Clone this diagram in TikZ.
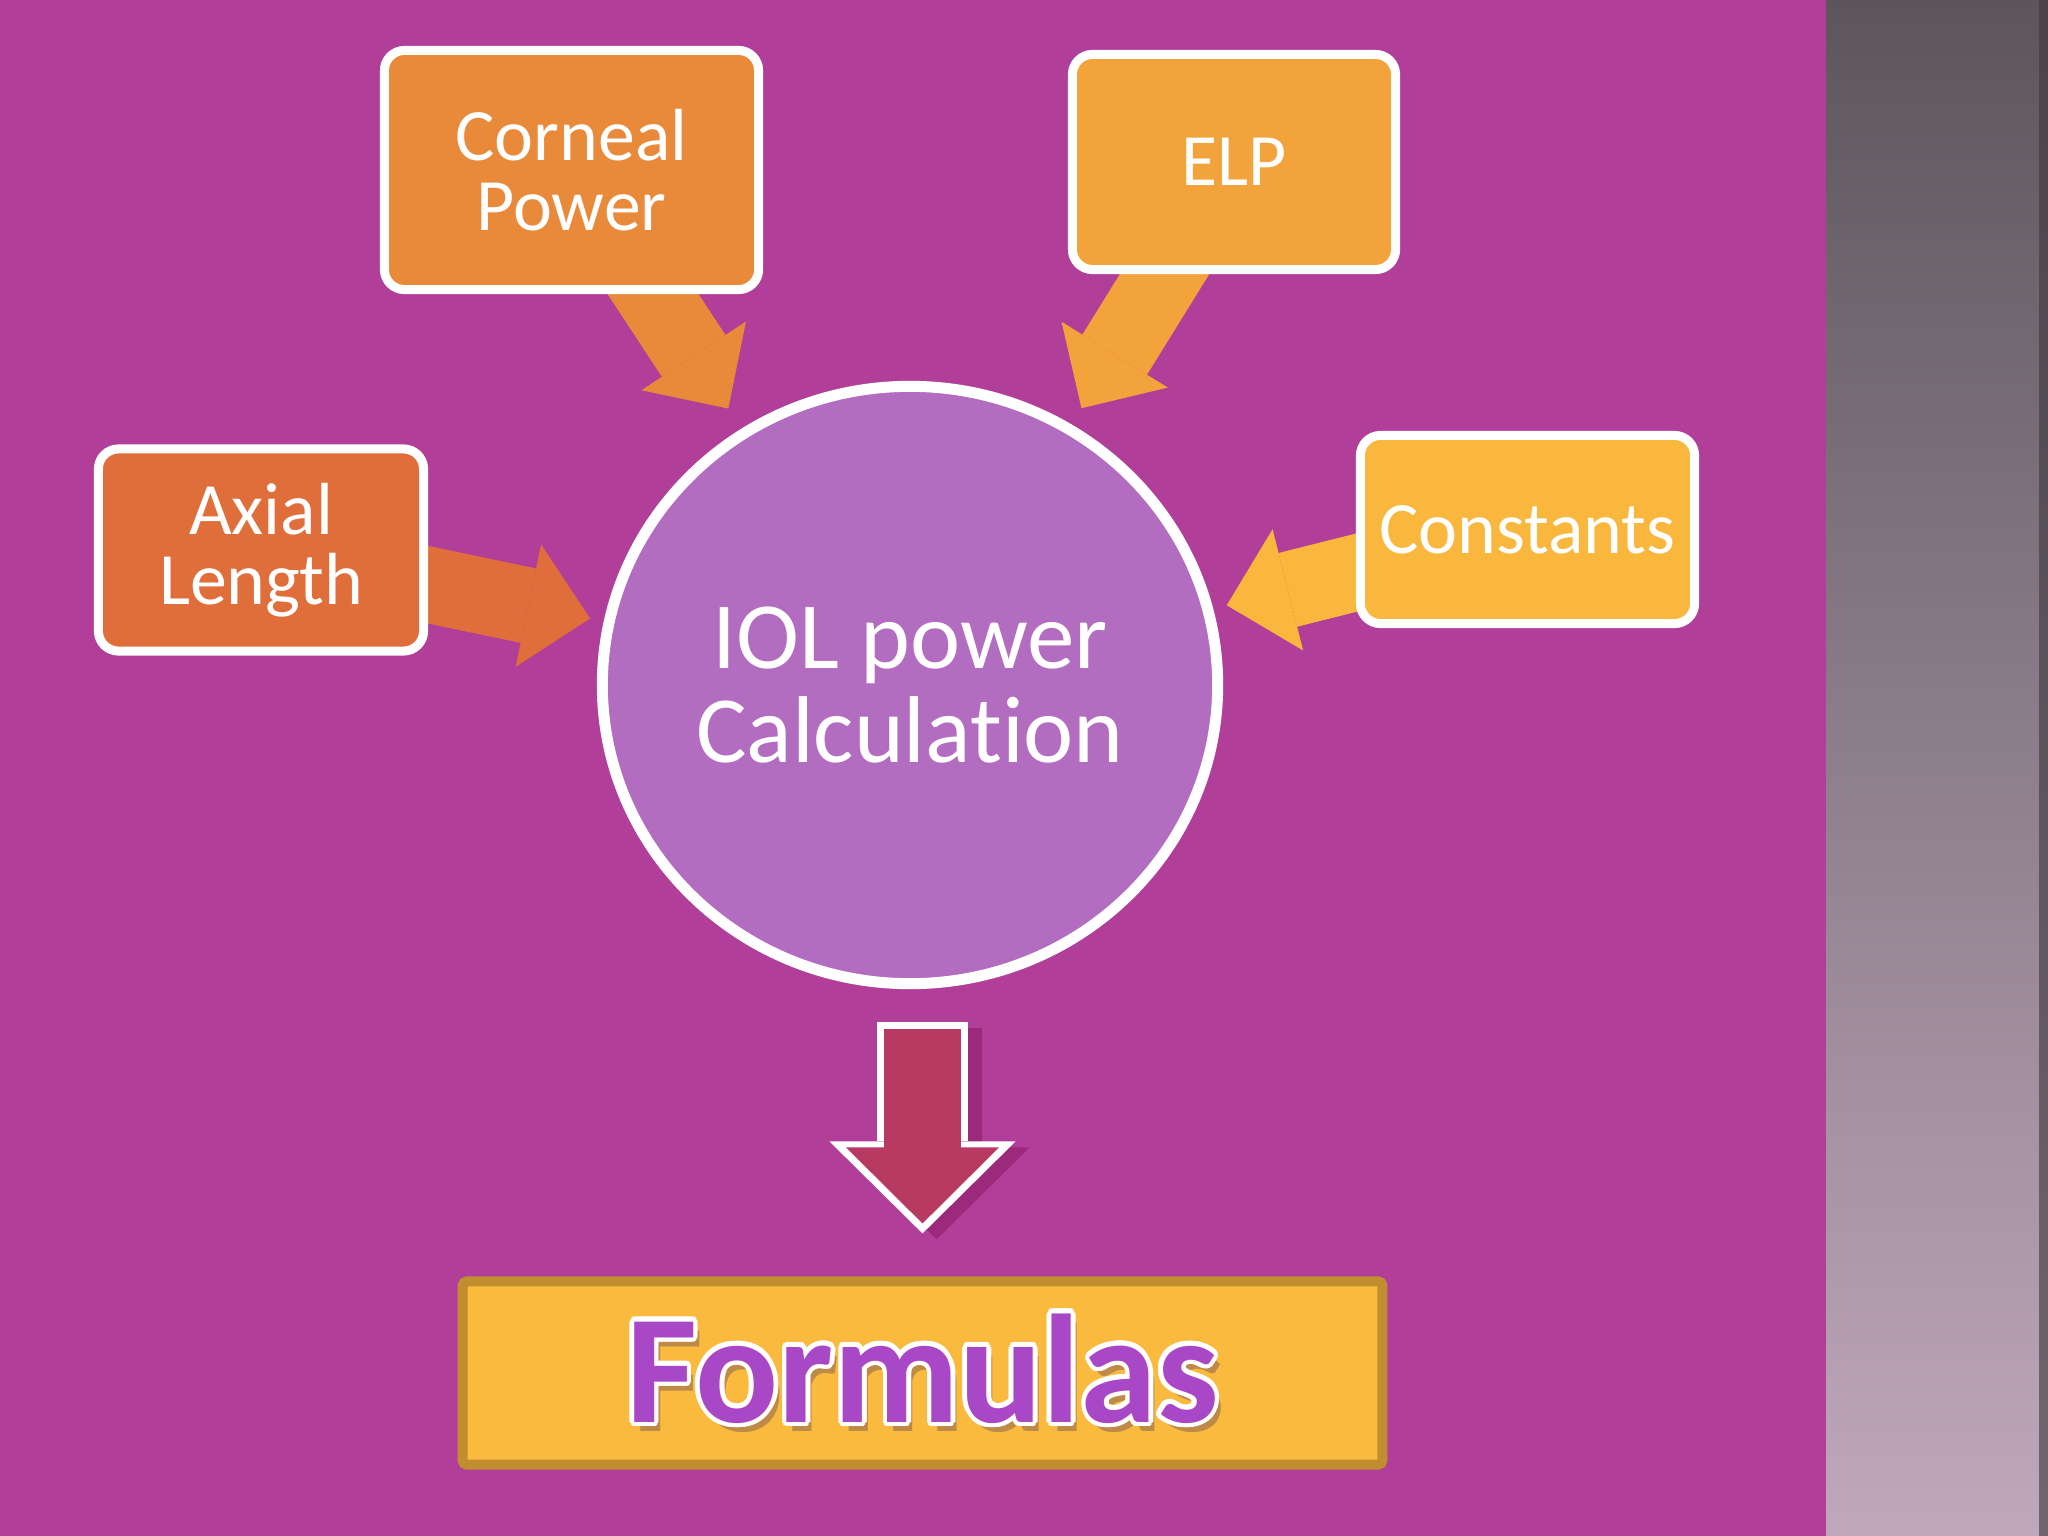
\documentclass[tikz,border=0pt]{standalone}
\usepackage{fontspec}
\setmainfont{Carlito}[Ligatures=NoCommon]
\usepackage[copies]{contour}
\contourlength{1.3pt}
\usetikzlibrary{arrows.meta,positioning,shapes.geometric,calc}
\definecolor{slideBg}{RGB}{177,62,152}
\definecolor{panelTop}{RGB}{92,86,92}
\definecolor{panelMid}{RGB}{140,124,138}
\definecolor{panelBottom}{RGB}{192,168,188}
\definecolor{panelEdge}{RGB}{62,56,62}
\definecolor{axialOrange}{RGB}{224,110,58}
\definecolor{cornealOrange}{RGB}{233,138,59}
\definecolor{elpOrange}{RGB}{243,163,60}
\definecolor{constYellow}{RGB}{249,183,62}
\definecolor{iolViolet}{RGB}{178,108,192}
\definecolor{downRed}{RGB}{184,58,98}
\definecolor{downShadow}{RGB}{150,38,118}
\definecolor{formGold}{RGB}{250,186,62}
\definecolor{formEdge}{RGB}{192,142,46}
\definecolor{formPurple}{RGB}{168,72,198}
\definecolor{formShadow}{RGB}{190,138,72}
\pgfdeclarelayer{slide}
\pgfdeclarelayer{links}
\pgfsetlayers{slide,links,main}

\begin{document}
\begin{tikzpicture}[
  x=0.01cm, y=-0.01cm,
  inbox/.style={
    draw=white,
    line width=0.09cm,
    rounded corners=0.2cm,
    align=center,
    text=white,
    font=\fontsize{21}{20}\selectfont
  },
  feed/.style={line width=0.76cm,-{Triangle[width=1.25cm,length=0.63cm,line width=0pt]}},
  downout/.style={white,line width=0.91cm,-{Triangle[width=1.86cm,length=0.92cm,line width=0pt]}},
  downin/.style={downRed,line width=0.77cm,-{Triangle[width=1.53cm,length=0.76cm,line width=0pt]}},
  downshade/.style={downShadow,opacity=0.8,line width=0.91cm,-{Triangle[width=1.86cm,length=0.92cm,line width=0pt]}}
]
  \useasboundingbox (0,0) rectangle (2048,1536);
  \begin{pgfonlayer}{slide}
    \fill[slideBg] (0,0) rectangle (2048,1536);
    % side panel
    \shade[top color=panelTop,middle color=panelMid,bottom color=panelBottom] (1826,0) rectangle (2048,1536);
    \fill[panelEdge,opacity=0.6] (2039,0) rectangle (2048,1536);
  \end{pgfonlayer}

  \node[inbox,fill=cornealOrange,minimum width=3.74cm,minimum height=2.39cm] (corneal) at (571.5,170) {Corneal\\Power};
  \node[inbox,fill=elpOrange,minimum width=3.23cm,minimum height=2.15cm] (elp) at (1234,162) {ELP};
  \node[inbox,fill=axialOrange,minimum width=3.25cm,minimum height=2.02cm] (axial) at (261,550) {Axial\\Length};
  \node[inbox,fill=constYellow,minimum width=3.34cm,minimum height=1.88cm] (constants) at (1527.5,529.5) {Constants};
  \node[ellipse,draw=white,line width=0.11cm,fill=iolViolet,inner sep=0pt,minimum width=6.15cm,minimum height=5.97cm,
    align=center,text=white,font=\fontsize{27}{26.5}\selectfont] (iol) at (910,685) {IOL power\\Calculation};
  \node[draw=formEdge,line width=0.1cm,fill=formGold,rounded corners=0.04cm,minimum width=9.19cm,minimum height=1.83cm,
    font=\fontsize{44}{44}\selectfont\bfseries] (formulas) at (922.5,1373)
    {\rlap{\hspace{0.04em}\raisebox{-0.06em}{\textcolor{formShadow}{Formulas}}}\textcolor{formPurple}{\contour{white}{Formulas}}};

  \begin{pgfonlayer}{links}
    \draw[feed,axialOrange,shorten >=0.14cm] (axial.center) -- (iol);
    \draw[feed,cornealOrange,shorten >=0.24cm] (corneal.center) -- (iol);
    \draw[feed,elpOrange,shorten >=0.19cm] (elp.center) -- (iol);
    \draw[feed,constYellow,shorten >=0.14cm] (constants.center) -- (iol);
  \end{pgfonlayer}

  % big arrow down to the formulas
  \coordinate (dtop) at ([yshift=-0.33cm]iol.south -| formulas.north);
  \coordinate (dtip) at ([yshift=0.43cm]formulas.north);
  \draw[downshade] ([shift={(0.14cm,-0.06cm)}]dtop) -- ([shift={(0.14cm,-0.06cm)}]dtip);
  \draw[downout] (dtop) -- (dtip);
  \draw[downin] ([yshift=-0.07cm]dtop) -- ([yshift=0.1cm]dtip);
  \draw[downRed,line width=0.77cm] ([yshift=-0.07cm]dtop) -- ([yshift=0.8cm]dtip);
\end{tikzpicture}
\end{document}
